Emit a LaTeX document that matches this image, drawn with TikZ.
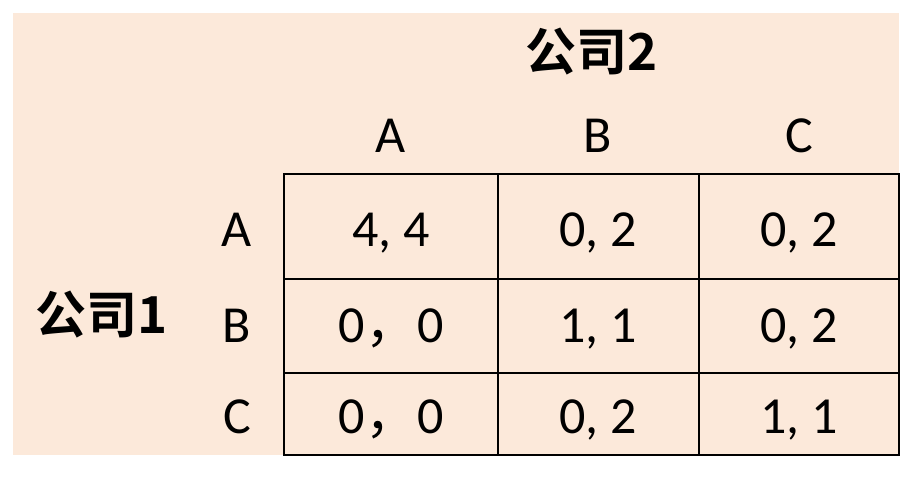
\documentclass[tikz,border=0pt]{standalone}
\usepackage{fontspec}
\setmainfont{Carlito}
\newfontfamily\cjk{Noto Sans CJK SC Bold}
\definecolor{peach}{HTML}{FCE9DA}

\begin{document}
\begin{tikzpicture}
  [x=1pt,y=-1pt,every node/.style={inner sep=0pt,anchor=base,font=\fontsize{52}{60}\selectfont},
   firm/.style={anchor=center,font=\fontsize{51}{58}\selectfont\cjk},
   grid/.style={line width=2pt}]

  \useasboundingbox (0,0) rectangle (902,481);
  \fill[peach] (13,13) rectangle (899,455);

  % table
  \draw[grid] (284,174) rectangle (899,455);
  \foreach \x in {498,699}
    \draw[grid] (\x,174) -- (\x,455);
  \foreach \y in {279,373}
    \draw[grid] (284,\y) -- (899,\y);

  % players
  \node[firm] (f2) at (592,52) {公司2};
  \node[firm] (f1) at (102,315) {公司1};

  % strategies
  \node (ca) at (391,153) {A};
  \node (cb) at (598,153) {B};
  \node (cc) at (799,153) {C};
  \node (ra) at (237,247) {A};
  \node (rb) at (237,342) {B};
  \node (rc) at (237,433) {C};

  % payoffs
  \node (aa) at (391,247) {4, 4};
  \node (ab) at (598,247) {0, 2};
  \node (ac) at (799,247) {0, 2};
  \node (ba) at (391,342) {0{\cjk\fontspec{Noto Sans CJK SC}，}0};
  \node (bb) at (598,342) {1, 1};
  \node (bc) at (799,342) {0, 2};
  \node (ca2) at (391,433) {0{\cjk\fontspec{Noto Sans CJK SC}，}0};
  \node (cb2) at (598,433) {0, 2};
  \node (cc2) at (799,433) {1, 1};

\end{tikzpicture}
\end{document}
